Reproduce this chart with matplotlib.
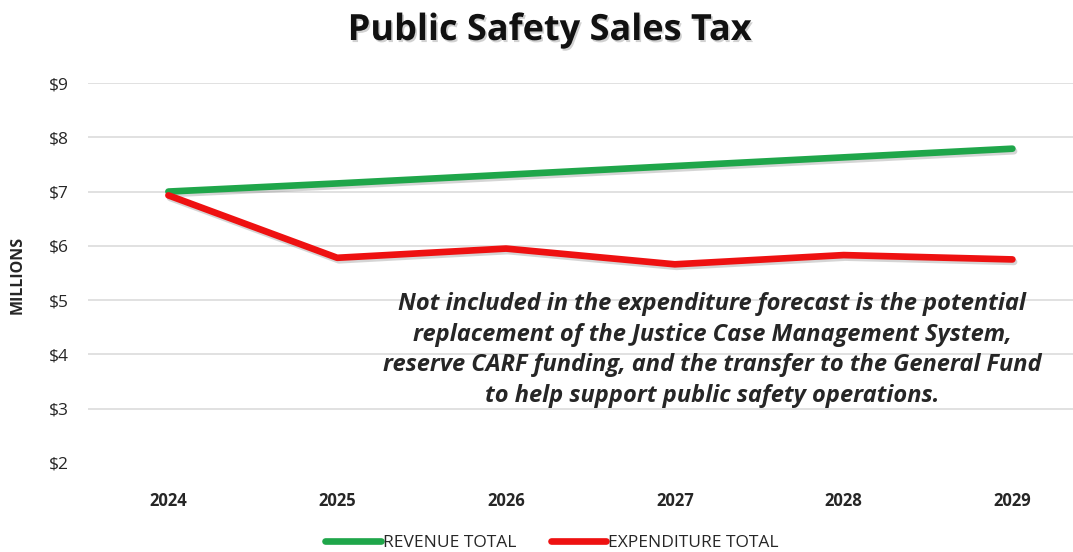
import matplotlib

matplotlib.use("Agg")

import matplotlib.pyplot as plt
import matplotlib.patheffects as pe
from matplotlib.lines import Line2D

years = ["2024", "2025", "2026", "2027", "2028", "2029"]
revenue = [7.00, 7.15, 7.31, 7.47, 7.63, 7.79]
expenditure = [6.93, 5.78, 5.95, 5.66, 5.83, 5.75]
y_ticks = [2, 3, 4, 5, 6, 7, 8, 9]

GREEN = "#1fa64a"
RED = "#ee1111"
GRID = "#d9d9d9"
TEXT = "#262626"

plt.rcParams["font.family"] = ["Open Sans", "DejaVu Sans"]

W, H = 1073, 552
fig = plt.figure(figsize=(W / 100, H / 100), dpi=100)

# plot area runs off the right edge, as in the original export
left_px, step_px = 88, 168.8
ax = fig.add_axes([left_px / W, (H - 463) / H, (W - left_px) / W, 380 / H])
ax.set_xlim(-0.5 + (left_px - 84) / step_px, -0.5 + (W - 84) / step_px)
ax.set_ylim(2, 9)

shadow = [pe.SimpleLineShadow(offset=(1.2, -1.8), shadow_color="#777777", alpha=0.3), pe.Normal()]
x = range(len(years))
ax.plot(x, revenue, color=GREEN, lw=4.8, solid_capstyle="round", path_effects=shadow, zorder=3)
ax.plot(x, expenditure, color=RED, lw=4.8, solid_capstyle="round", path_effects=shadow, zorder=3)

for v in y_ticks[1:]:
    ax.axhline(v, color=GRID, lw=1.1, zorder=1)

for s in ax.spines.values():
    s.set_visible(False)
ax.set_yticks(y_ticks)
ax.set_yticklabels([f"${v}" for v in y_ticks], fontsize=12.5, color=TEXT)
ax.set_xticks(list(x))
ax.set_xticklabels(years, fontsize=12, fontweight="bold", color=TEXT)
ax.tick_params(length=0)
ax.tick_params(axis="y", pad=14)
ax.tick_params(axis="x", pad=21)

fig.text(18 / W, (H - 275) / H, "MILLIONS", rotation=90, ha="center", va="center",
         fontsize=11.5, fontweight="bold", color=TEXT)

fig.text(550 / W, (H - 31) / H, "Public Safety Sales Tax", ha="center", va="center",
         fontsize=26, fontweight="bold", color="#111111",
         path_effects=[pe.SimplePatchShadow(offset=(1.2, -1.5), alpha=0.18), pe.Normal()])

note = ("Not included in the expenditure forecast is the potential\n"
        "replacement of the Justice Case Management System,\n"
        "reserve CARF funding, and the transfer to the General Fund\n"
        "to help support public safety operations.")
fig.text(712 / W, (H - 350) / H, note, ha="center", va="center", fontsize=17,
         fontweight="bold", fontstyle="italic", color=TEXT, linespacing=1.38)

handles = [Line2D([], [], color=GREEN, lw=4.8, solid_capstyle="round"),
           Line2D([], [], color=RED, lw=4.8, solid_capstyle="round")]
fig.legend(handles, ["REVENUE TOTAL", "EXPENDITURE TOTAL"], loc="center",
           bbox_to_anchor=(552 / W, (H - 543) / H), ncol=2, frameon=False,
           fontsize=12.5, handlelength=3.2, handletextpad=0.1, columnspacing=2.0,
           labelcolor=TEXT)

fig.savefig("out.png", dpi=100, facecolor="white")
